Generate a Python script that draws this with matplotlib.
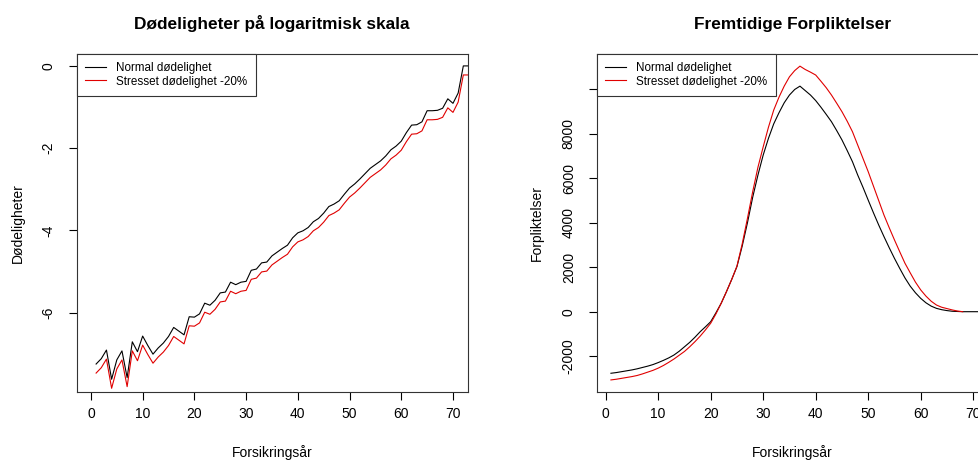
import matplotlib.pyplot as plt

plt.rcParams['font.family'] = ['Liberation Sans', 'DejaVu Sans']

# log mortality per policy year
years = list(range(1, 74))
log_normal = [-7.25, -7.12, -6.91, -7.62, -7.15, -6.93, -7.58, -6.71, -6.95, -6.57,
              -6.80, -7.01, -6.86, -6.74, -6.58, -6.36, -6.45, -6.54, -6.10, -6.11,
              -6.03, -5.77, -5.82, -5.70, -5.52, -5.50, -5.26, -5.32, -5.26, -5.24,
              -4.97, -4.94, -4.79, -4.77, -4.62, -4.53, -4.44, -4.36, -4.18, -4.06,
              -4.01, -3.93, -3.79, -3.71, -3.58, -3.42, -3.36, -3.28, -3.12, -2.97,
              -2.87, -2.75, -2.62, -2.49, -2.40, -2.31, -2.19, -2.04, -1.95, -1.83,
              -1.62, -1.44, -1.43, -1.36, -1.09, -1.09, -1.08, -1.03, -0.80, -0.91,
              -0.66, 0.00, 0.00]
log_stressed = [-7.47, -7.34, -7.13, -7.84, -7.37, -7.15, -7.80, -6.93, -7.17, -6.79,
                -7.02, -7.23, -7.08, -6.96, -6.80, -6.58, -6.67, -6.76, -6.32, -6.33,
                -6.25, -5.99, -6.04, -5.92, -5.74, -5.72, -5.48, -5.54, -5.48, -5.46,
                -5.19, -5.16, -5.01, -4.99, -4.84, -4.75, -4.66, -4.58, -4.40, -4.28,
                -4.23, -4.15, -4.01, -3.93, -3.80, -3.64, -3.58, -3.50, -3.34, -3.19,
                -3.09, -2.97, -2.84, -2.71, -2.62, -2.53, -2.41, -2.26, -2.17, -2.05,
                -1.84, -1.66, -1.65, -1.58, -1.31, -1.31, -1.30, -1.25, -1.02, -1.13,
                -0.88, -0.22, -0.22]

# future liabilities
liab_years = list(range(1, 74))
liab_normal = [-2770, -2740, -2700, -2660, -2620, -2570, -2510, -2450, -2380, -2290,
               -2190, -2080, -1950, -1780, -1580, -1380, -1150, -900, -680, -450,
               -50, 380, 900, 1450, 2030, 2950, 4000, 5150, 6150, 7050,
               7800, 8450, 8950, 9400, 9750, 10000, 10150, 9950, 9750, 9500,
               9200, 8880, 8550, 8150, 7730, 7250, 6750, 6150, 5600, 5020,
               4450, 3900, 3380, 2880, 2400, 1950, 1520, 1150, 850, 600,
               400, 250, 150, 90, 50, 20, 10, 0, 0, 0,
               0, 0, 0]
liab_years_st = list(range(1, 69))
liab_stressed = [-3070, -3040, -3000, -2960, -2920, -2870, -2800, -2720, -2640, -2540,
                 -2420, -2280, -2130, -1960, -1790, -1580, -1350, -1100, -820, -520,
                 -100, 380, 900, 1450, 2050, 3050, 4200, 5400, 6500, 7420,
                 8300, 9070, 9650, 10150, 10570, 10850, 11050, 10900, 10780, 10650,
                 10370, 10080, 9750, 9380, 9000, 8570, 8100, 7500, 6900, 6300,
                 5650, 5000, 4350, 3780, 3230, 2700, 2180, 1750, 1330, 980,
                 700, 470, 300, 200, 140, 80, 30, 0]

labels = ['Normal dødelighet', 'Stresset dødelighet -20%']

fig = plt.figure(figsize=(9.79, 4.61), dpi=100)
ax1 = fig.add_axes([0.0783, 0.1497, 0.3994, 0.7332])
ax2 = fig.add_axes([0.6095, 0.1497, 0.3994, 0.7332])


def style(ax, title, ylabel, ylab_x):
    ax.set_title(title, fontsize=12.4, fontweight='bold', pad=18)
    ax.set_xlabel('Forsikringsår', fontsize=10)
    ax.set_ylabel(ylabel, fontsize=10)
    ax.xaxis.set_label_coords(0.5, -0.178)
    ax.xaxis.label.set_va('center')
    ax.yaxis.set_label_coords(ylab_x, 0.5)
    ax.yaxis.label.set_va('center')
    ax.tick_params(direction='out', length=6, width=0.8, labelsize=10)
    ax.tick_params(axis='x', pad=4.5)
    ax.tick_params(axis='y', pad=9)
    for lab in ax.get_yticklabels():
        lab.set_rotation(90)
        lab.set_va('center')
    for sp in ax.spines.values():
        sp.set_linewidth(0.8)
        sp.set_color('#333333')
    leg = ax.legend(labels, loc='upper left', bbox_to_anchor=(0, 1),
                    borderaxespad=0, fancybox=False, framealpha=1,
                    edgecolor='#333333', fontsize=8.4, handlelength=1.85,
                    handletextpad=0.85, borderpad=0.7, labelspacing=0.12)
    leg.get_frame().set_linewidth(0.8)


# left panel: log mortality
ax1.plot(years, log_normal, color='black', lw=0.8)
ax1.plot(years, log_stressed, color='#e00000', lw=0.8)
ax1.set_xlim(-2.76, 72.84)
ax1.set_ylim(-7.93, 0.29)
ax1.set_xticks(range(0, 71, 10))
ax1.set_yticks([0, -2, -4, -6])
ax1.set_yticklabels(['0', '-2', '-4', '-6'])
style(ax1, 'Dødeligheter på logaritmisk skala', 'Dødeligheter', -0.150)

# right panel: liabilities
ax2.plot(liab_years, liab_normal, color='black', lw=0.8)
ax2.plot(liab_years_st, liab_stressed, color='#e00000', lw=0.8)
ax2.set_xlim(-1.71, 72.76)
ax2.set_ylim(-3613, 11597)
ax2.set_xticks(range(0, 71, 10))
ax2.set_yticks([-2000, 0, 2000, 4000, 6000, 8000, 10000])
ax2.set_yticklabels(['-2000', '0', '2000', '4000', '6000', '8000', ''])
style(ax2, 'Fremtidige Forpliktelser', 'Forpliktelser', -0.153)

fig.savefig('out.png', dpi=100)
